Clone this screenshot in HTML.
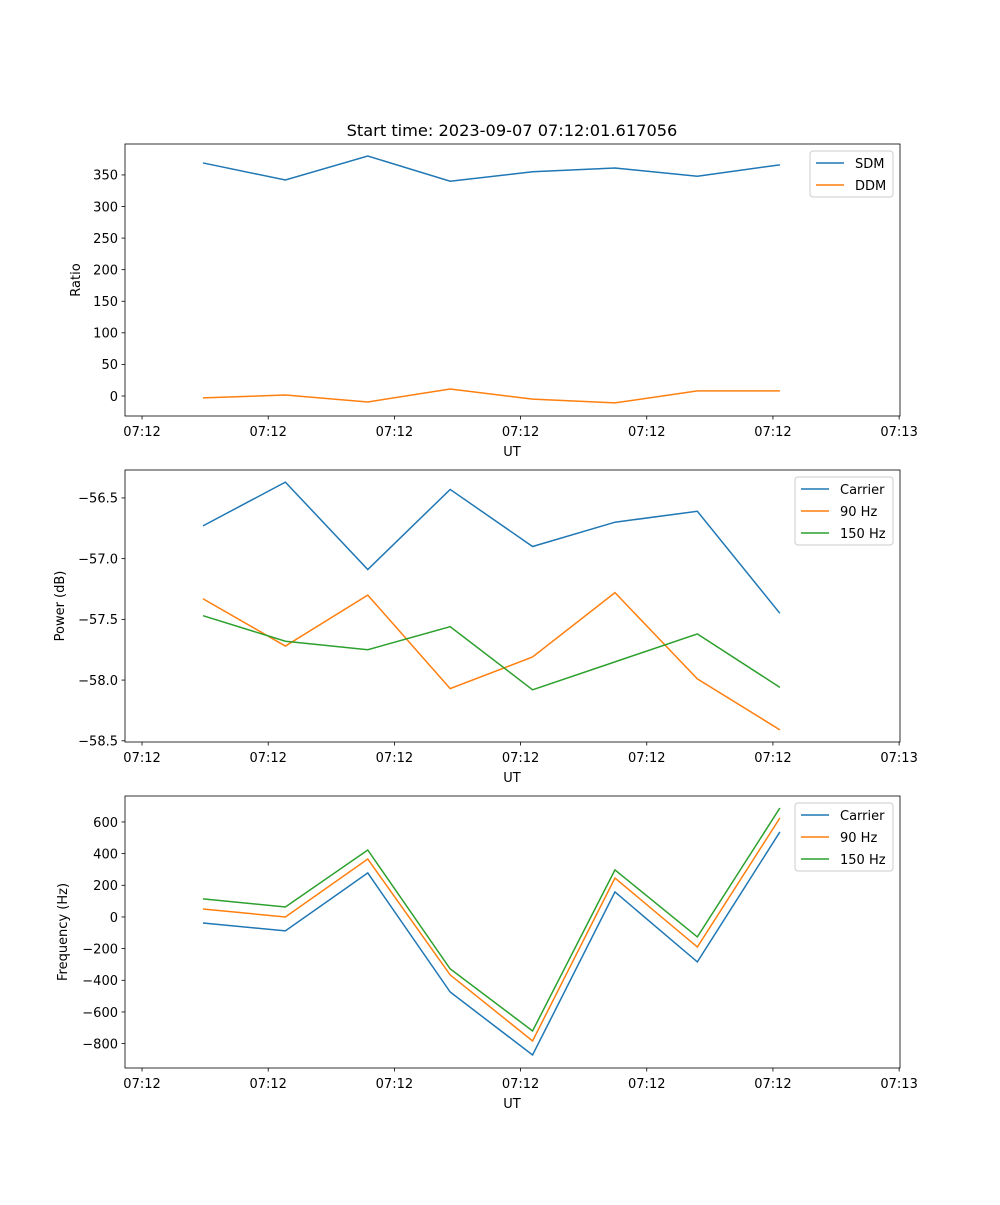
<!DOCTYPE html>
<html><head><meta charset="utf-8"><style>
body{margin:0;background:#fff}
svg{font-family:"DejaVu Sans","Liberation Sans",sans-serif}
</style></head><body>
<svg id="fig" width="1000" height="1200" xmlns="http://www.w3.org/2000/svg">
<text x="512" y="136" font-size="16.2" text-anchor="middle">Start time: 2023-09-07 07:12:01.617056</text>
</svg>
<script>
const times = [4.83, 11.36, 17.89, 24.42, 30.95, 37.48, 44.01, 50.55];
const xTickVals = [0, 10, 20, 30, 40, 50, 60];
const xTickLabels = ["07:12","07:12","07:12","07:12","07:12","07:12","07:13"];
const sdm = [369, 342, 380, 340, 355, 361, 348, 366];
const ddm = [-3, 1.5, -9.5, 11, -5, -11, 8, 8];
const powCarrier = [-56.73, -56.37, -57.09, -56.43, -56.90, -56.70, -56.61, -57.45];
const pow90 = [-57.33, -57.72, -57.30, -58.07, -57.81, -57.28, -57.99, -58.41];
const pow150 = [-57.47, -57.68, -57.75, -57.56, -58.08, -57.85, -57.62, -58.06];
const freqCarrier = [-38, -88, 278, -474, -872, 158, -284, 537];
const freq90 = [50, 0, 366, -366, -783, 246, -190, 625];
const freq150 = [114, 63, 423, -328, -720, 297, -126, 688];
const ratioTicks = [0, 50, 100, 150, 200, 250, 300, 350];
const powTicks = [-58.5, -58.0, -57.5, -57.0, -56.5];
const freqTicks = [-800, -600, -400, -200, 0, 200, 400, 600];

const svg = document.getElementById('fig');
const NS = 'http://www.w3.org/2000/svg';
function mk(tag, attrs, parent){const e=document.createElementNS(NS,tag);for(const k in attrs)e.setAttribute(k,attrs[k]);(parent||svg).appendChild(e);return e;}
const L=125,R=900;
const xmin=-1.35,xmax=60.07;
const xs=t=>L+(t-xmin)/(xmax-xmin)*(R-L);
const C=['#1f77b4','#ff7f0e','#2ca02c'];

function panel(name,top,ymin,ymax,yticks,fmt,ylabel,series,labels,legendW){
  const B=top+272;
  const ys=v=>B-(v-ymin)/(ymax-ymin)*272;
  const g=mk('g',{});
  
  
  series.forEach((s,i)=>{
    const p=mk('polyline',{points:s.map((v,j)=>xs(times[j])+','+ys(v)).join(' '),fill:'none',stroke:C[i],'stroke-width':1.5},g);
    
    
  });
  const fr=mk('rect',{x:L,y:top,width:R-L,height:272,fill:'none',stroke:'#000','stroke-width':0.8},g);
  
  
  xTickVals.forEach((t,i)=>{
    const x=xs(t);
    mk('line',{x1:x,x2:x,y1:B,y2:B+3.5,stroke:'#000','stroke-width':0.8},g);
    const tx=mk('text',{x:x,y:B+20,'font-size':13,'text-anchor':'middle'},g);
    tx.textContent=xTickLabels[i];
    
    
  });
  const xl=mk('text',{x:512,y:B+40,'font-size':13,'text-anchor':'middle'},g);
  xl.textContent='UT';
  
  
  yticks.forEach(v=>{
    const y=ys(v);
    mk('line',{x1:L-3.5,x2:L,y1:y,y2:y,stroke:'#000','stroke-width':0.8},g);
    const tx=mk('text',{x:L-7,y:y+4.8,'font-size':13,'text-anchor':'end'},g);
    tx.textContent=fmt(v);
    
    
  });
  const yc=top+136;
  const yl=mk('text',{x:0,y:0,'font-size':13,'text-anchor':'middle',transform:`translate(${ylabel[1]},${yc}) rotate(-90)`},g);
  yl.textContent=ylabel[0];
  
  
  const lx=R-7-legendW, ly=top+7;
  const lg=mk('g',{},g);
  
  
  mk('rect',{x:lx,y:ly,width:legendW,height:labels.length*22+2,rx:3,fill:'#fff',stroke:'#ccc','stroke-width':1},lg);
  labels.forEach((lab,i)=>{
    const yy=ly+12+i*22;
    mk('line',{x1:lx+6,x2:lx+34,y1:yy,y2:yy,stroke:C[i],'stroke-width':1.5},lg);
    const t=mk('text',{x:lx+45,y:yy+5,'font-size':13},lg);
    t.textContent=lab;
    
    
  });
}
panel('ratio',144,-31.7,399,ratioTicks,v=>String(v),['Ratio',80],[sdm,ddm],['SDM','DDM'],83);
panel('power',470,-58.51,-56.27,powTicks,v=>(v<0?'\u2212':'')+Math.abs(v).toFixed(1),['Power (dB)',64],[powCarrier,pow90,pow150],['Carrier','90 Hz','150 Hz'],98);
panel('frequency',796,-954,764,freqTicks,v=>(v<0?'\u2212':'')+Math.abs(v),['Frequency (Hz)',67],[freqCarrier,freq90,freq150],['Carrier','90 Hz','150 Hz'],98);
</script>
</body></html>
